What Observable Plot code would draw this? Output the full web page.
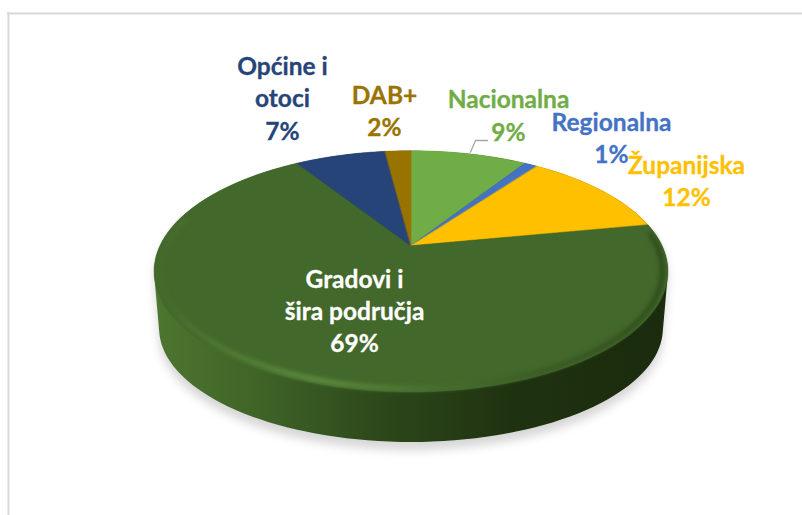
<!doctype html>
<html><head><meta charset="utf-8">
<style>html,body{margin:0;padding:0;background:#fff}svg{display:block}</style>
<script src="https://cdn.jsdelivr.net/npm/d3@7"></script>
<script src="https://cdn.jsdelivr.net/npm/@observablehq/plot@0.6"></script>
</head><body><div id="chart"></div>
<script>
// Data
const categories = ["Nacionalna","Regionalna","Županijska","Gradovi i šira područja","Općine i otoci","DAB+"];
const values = [9,1,12,69,7,2];
const labelLines = ["Nacionalna","Regionalna","Županijska","Gradovi i\nšira područja","Općine i\notoci","DAB+"];
const sliceColors = ["#70ad47","#4472c4","#ffc000","#43682b","#264478","#997300"];
const textColors = ["#70ad47","#4472c4","#ffc000","#ffffff","#264478","#997300"];

// Layout of the tilted pie
const cx=411, cy=245.7, R=251, ry=115.2, k=0.2126;
const project = (deg, f=1) => {
  const a = deg*Math.PI/180, u = f*Math.sin(a), v = -f*Math.cos(a), s = 1/(1-k*v);
  return [cx+R*u*s, cy+ry*v*s];
};
const toBottom = ([x,y]) => [cx+(x-cx)*252/257, 328+(y-271)*114/121];
const labelPlace = {Nacionalna:[508,113.5],Regionalna:[611,136],"Županijska":[686,179],
  "Gradovi i šira područja":[354,309],"Općine i otoci":[282,96.5],"DAB+":[384,109]};

const total = d3.sum(values);
let acc = 0;
const wedges = [];
categories.forEach((c,i)=>{
  const a0 = acc/total*360; acc += values[i]; const a1 = acc/total*360;
  const n = Math.max(2,Math.ceil(a1-a0));
  for(let t=0;t<=n;t++){
    const [x,y] = project(a0+(a1-a0)*t/n);
    wedges.push({c,color:sliceColors[i],x,y});
  }
});
const rimPts = d3.range(0,360,2).map(d=>project(d));
const hullPts = d3.polygonHull([...rimPts, ...rimPts.map(toBottom)]);
const silhouette = [...hullPts, hullPts[0]].map(([x,y])=>({x,y}));
const bevel = d3.range(84,285,2).map(d=>{
  const [x,y]=project(d,0.978); return {d,x,y};
});
const labels = categories.map((c,i)=>({
  c,text:labelLines[i]+"\n"+values[i]+"%",color:textColors[i],
  x:labelPlace[c][0],y:labelPlace[c][1]
}));
const leader = [[470,151.7],[475,140],[487,140]];

const defs = () => {
  const s = d3.create("svg:defs");
  const grad = (id,stops,x1,x2)=>{
    const g = s.append("linearGradient").attr("id",id).attr("gradientUnits","userSpaceOnUse")
      .attr("x1",x1).attr("x2",x2).attr("y1",0).attr("y2",0);
    stops.forEach(([o,col])=>g.append("stop").attr("offset",o).attr("stop-color",col));
  };
  grad("sideFill",[[0,"#4d7630"],[0.2,"#3f6427"],[0.45,"#2c471a"],[0.7,"#1f3210"],[1,"#1b2b0e"]],155,667);
  grad("bevelFill",[[0,"#43682b"],[0.12,"#4f7a33"],[0.32,"#5f8f42"],[0.55,"#47702e"],[0.75,"#3a5a24"],[1,"#2c4a1b"]],155,667);
  return s.node();
};

const chart = Plot.plot({
  width:802,height:515,margin:0,
  x:{domain:[0,802],range:[0,802],axis:null},
  y:{domain:[0,515],range:[0,515],axis:null},
  marks:[
    defs,
    Plot.ruleY([13],{x1:7,x2:802,stroke:"#d9d9d9",strokeWidth:2}),
    Plot.ruleX([8],{y1:12,y2:515,stroke:"#d9d9d9",strokeWidth:2}),
    // soft shadow
    Plot.area(silhouette,{x1:cx,y1:300,x2:d=>d.x,y2:d=>d.y+8,fill:"#000",fillOpacity:0.16,imageFilter:"blur(5px)"}),
    // side wall
    Plot.area(silhouette,{x1:cx,y1:300,x2:"x",y2:"y",fill:"url(#sideFill)"}),
    // top face
    Plot.area(wedges,{x1:cx,y1:cy,x2:"x",y2:"y",z:"c",fill:"color",stroke:"color",strokeWidth:0.5}),
    // bevel along the front rim
    Plot.line(bevel,{x:"x",y:"y",stroke:"url(#bevelFill)",strokeWidth:5,imageFilter:"blur(2px)"}),
    // leader line
    Plot.line(leader,{x:d=>d[0],y:d=>d[1],stroke:"#a6a6a6",strokeWidth:1.3}),
    // labels
    Plot.text(labels,{x:"x",y:"y",text:"text",fill:"color",stroke:"color",strokeWidth:0.3,fontFamily:"Lato",fontWeight:700,
      fontSize:24.5,lineHeight:1.32,textAnchor:"middle"})
  ]
});
document.getElementById("chart").append(chart);
</script></body></html>
